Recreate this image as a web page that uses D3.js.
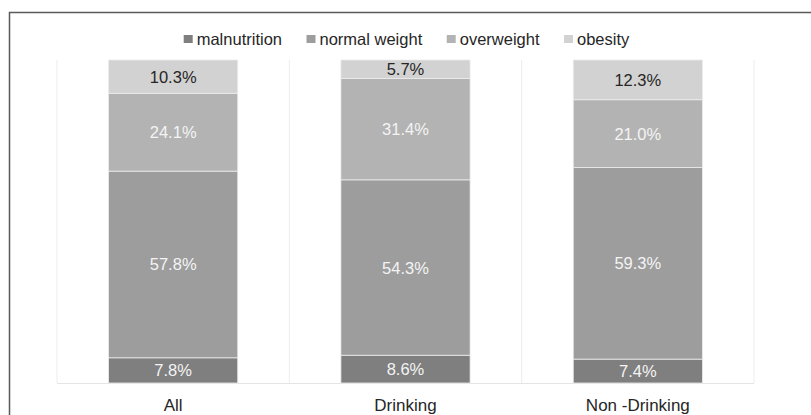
<!DOCTYPE html>
<html>
<head>
<meta charset="utf-8">
<script src="https://cdn.jsdelivr.net/npm/d3@7"></script>
<style>
  html, body { margin: 0; padding: 0; background: #ffffff; }
  svg { display: block; font-family: "Liberation Sans", Arial, sans-serif; }
</style>
</head>
<body>
<svg id="chart" width="811" height="415"></svg>
<script>
// Groups along the x axis
const categories = ["All", "Drinking", "Non -Drinking"];
// BMI classes, stacked from the bottom up
const seriesNames = ["malnutrition", "normal weight", "overweight", "obesity"];
// Share of each BMI class per group (%)
const malnutrition = [7.8, 8.6, 7.4];
const normalWeight = [57.8, 54.3, 59.3];
const overweight = [24.1, 31.4, 21.0];
const obesity = [10.3, 5.7, 12.3];

const seriesValues = [malnutrition, normalWeight, overweight, obesity];
const fills = ["#7f7f7f", "#9d9d9d", "#b3b3b3", "#d2d2d2"];
const labelFills = ["#f4f4f4", "#f4f4f4", "#f4f4f4", "#262626"];

const rows = categories.map((c, i) => {
  const r = { category: c };
  seriesNames.forEach((s, j) => { r[s] = seriesValues[j][i]; });
  return r;
});

const svg = d3.select("#chart");
const plot = { left: 57, right: 754, top: 60, bottom: 383 };

// Outer frame (open to the right and bottom edges of the page)
svg.append("rect")
  .attr("x", 9.5).attr("y", 12.5)
  .attr("width", 830).attr("height", 430)
  .attr("fill", "none")
  .attr("stroke", "#5a5a5a")
  .attr("stroke-width", 1.5);

const x = d3.scaleBand()
  .domain(categories)
  .range([plot.left, plot.right])
  .paddingInner(0.444)
  .paddingOuter(0.222);

const y = d3.scaleLinear().domain([0, 100]).range([plot.bottom, plot.top]);

// Category separators
const step = x.step();
const sepX = d3.range(categories.length + 1).map(i => plot.left + i * step);
svg.append("g").selectAll("line").data(sepX).join("line")
  .attr("x1", d => d).attr("x2", d => d)
  .attr("y1", plot.top).attr("y2", plot.bottom)
  .attr("stroke", "#ededed").attr("stroke-width", 1);

svg.append("line")
  .attr("x1", plot.left).attr("x2", plot.right)
  .attr("y1", plot.bottom + 0.5).attr("y2", plot.bottom + 0.5)
  .attr("stroke", "#e4e4e4").attr("stroke-width", 1);

const stacked = d3.stack().keys(seriesNames)(rows);

const layers = svg.append("g").selectAll("g").data(stacked).join("g")
  .attr("fill", (d, i) => fills[i]);

layers.selectAll("rect").data(d => d).join("rect")
  .attr("x", d => x(d.data.category))
  .attr("width", x.bandwidth())
  .attr("y", d => y(d[1]))
  .attr("height", d => y(d[0]) - y(d[1]))
  .attr("stroke", "#ececec")
  .attr("stroke-width", 0.8);

// Value labels in the middle of each segment
svg.append("g").selectAll("g").data(stacked).join("g")
  .attr("fill", (d, i) => labelFills[i])
  .selectAll("text").data(d => d).join("text")
  .attr("x", d => x(d.data.category) + x.bandwidth() / 2)
  .attr("y", d => (y(d[0]) + y(d[1])) / 2)
  .attr("text-anchor", "middle")
  .attr("dominant-baseline", "central")
  .attr("font-size", 16.5)
  .text(d => (d[1] - d[0]).toFixed(1) + "%");

// Category axis
const xAxis = svg.append("g")
  .attr("transform", `translate(0,${plot.bottom})`)
  .call(d3.axisBottom(x).tickSize(0).tickPadding(16));
xAxis.select(".domain").remove();
xAxis.selectAll("text")
  .attr("font-size", 17)
  .attr("font-family", "'Liberation Sans', Arial, sans-serif")
  .attr("fill", "#262626");

// Legend
const legend = svg.append("g");
const items = legend.selectAll("g").data(seriesNames).join("g");
items.append("rect")
  .attr("width", 9).attr("height", 8)
  .attr("y", 35)
  .attr("fill", (d, i) => fills[i]);
items.append("text")
  .attr("x", 13).attr("y", 44.7)
  .attr("font-size", 16.5)
  .attr("fill", "#262626")
  .text(d => d);
let cursor = 0;
items.each(function () {
  const g = d3.select(this);
  g.attr("transform", `translate(${cursor},0)`);
  cursor += 13 + g.select("text").node().getComputedTextLength() + 24.5;
});
const legendWidth = cursor - 24.5;
legend.attr("transform", `translate(${(plot.left + plot.right) / 2 - legendWidth / 2 + 1},0)`);
</script>
</body>
</html>
